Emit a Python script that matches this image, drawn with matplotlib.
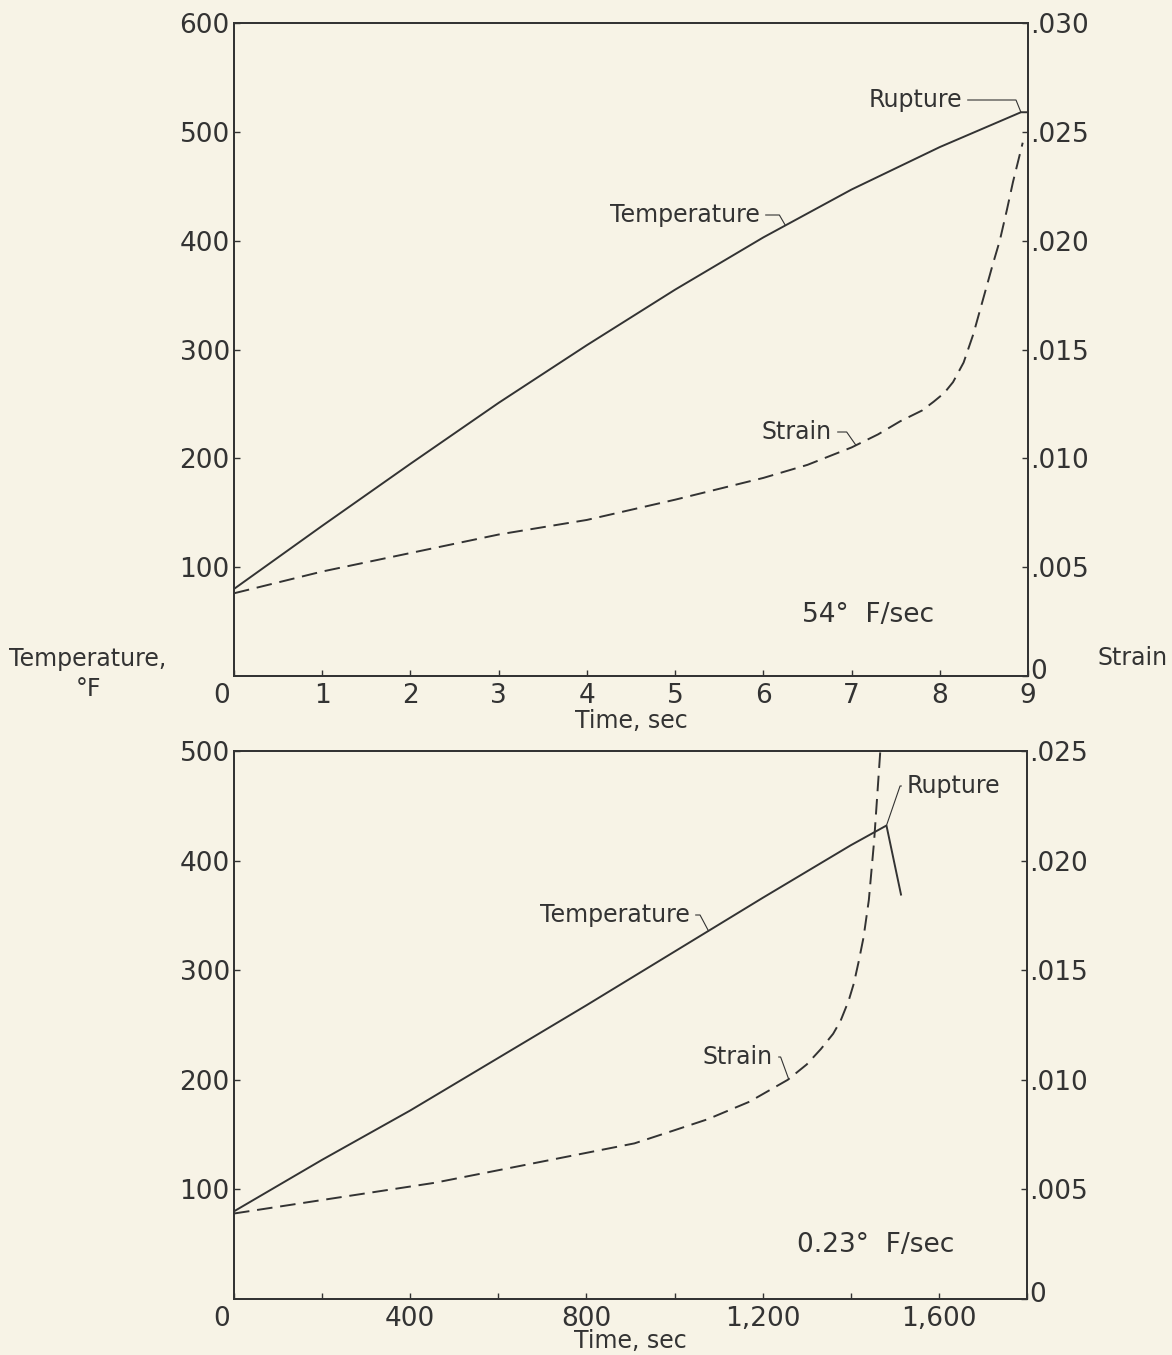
import numpy as np
import matplotlib
matplotlib.use("Agg")
import matplotlib.pyplot as plt
from matplotlib import rc
from matplotlib.transforms import ScaledTranslation

rc('font', **{'family': 'sans-serif', 'sans-serif': ['DejaVu Sans'], 'size': 19})

ink = '#333333'
paper = '#f7f3e6'

# --- 54 F/sec run (top panel) ---
t_fast = [0, 1, 2, 3, 4, 5, 6, 7, 8, 8.92, 9.0]
temp_fast = [80, 138, 195, 251, 304, 355, 403, 447, 486, 518, 518]
ts_fast = [0, 1, 2, 3, 4, 5, 6, 6.5, 7.0, 7.3, 7.55, 7.8, 7.93, 8.05, 8.15, 8.27,
           8.38, 8.49, 8.6, 8.68, 8.76, 8.83, 8.94]
strain_fast = [0.0038, 0.0048, 0.00565, 0.0065, 0.00717, 0.0081, 0.0091, 0.0097,
               0.0105, 0.0111, 0.0117, 0.0122, 0.0126, 0.0130, 0.0135, 0.0144,
               0.0157, 0.0173, 0.0189, 0.0200, 0.0214, 0.0227, 0.0245]

# --- 0.23 F/sec run (bottom panel) ---
t_slow = [0, 200, 400, 600, 800, 1000, 1200, 1400, 1481, 1514]
temp_slow = [80, 127, 172, 220, 268, 317, 366, 414, 432, 369]
ts_slow = [0, 455, 909, 1000, 1075, 1170, 1257, 1300, 1332, 1360, 1377, 1395, 1407,
           1418, 1429, 1441, 1453, 1467, 1472]
strain_slow = [0.0039, 0.0053, 0.0071, 0.0077, 0.0082, 0.0090, 0.0100, 0.0107,
               0.0114, 0.0121, 0.0127, 0.0136, 0.0144, 0.0154, 0.0165, 0.0182,
               0.0209, 0.0250, 0.0265]

W, H = 1172, 1355
fig = plt.figure(figsize=(W / 100, H / 100), dpi=100, facecolor=paper)
dash = (0, (8, 4))


def frac(x0, y0, x1, y1):
    # image pixel box -> figure fraction rect
    return [x0 / W, 1 - y1 / H, (x1 - x0) / W, (y1 - y0) / H]


def leader(ax, label, xy, txt, angB, ha='right'):
    ax.annotate(label, xy=xy, xycoords='data',
                xytext=(txt[0], H - txt[1]), textcoords='figure pixels',
                ha=ha, va='center', fontsize=17, color=ink,
                arrowprops=dict(arrowstyle='-', color=ink, lw=0.8,
                                connectionstyle=f'angle,angleA=0,angleB={angB},rad=0',
                                shrinkA=2, shrinkB=0))


def style(ax, ax2):
    for a in (ax, ax2):
        a.set_facecolor('none')
        for s in a.spines.values():
            s.set_color(ink)
            s.set_linewidth(1.3)
    ax.tick_params(axis='both', direction='in', length=4, width=1, colors=ink)
    ax.tick_params(axis='y', pad=3, labelsize=19)
    ax.tick_params(axis='x', pad=5, labelsize=19)
    ax2.tick_params(axis='y', direction='in', length=4, width=1, colors=ink, pad=1.5, labelsize=19)
    ax.annotate('0', xy=(0, 0), xycoords='axes fraction', xytext=(-9, -5),
                textcoords='offset points', ha='center', va='top', fontsize=19, color=ink)
    # lift the right-hand "0" a little so it clears the last x label
    fig.canvas.draw()
    lab = ax2.get_yticklabels()[0]
    lab.set_transform(lab.get_transform() + ScaledTranslation(0, 5 / 72, fig.dpi_scale_trans))


# top panel
ax = fig.add_axes(frac(234, 23, 1028, 676))
ax.set_facecolor(paper)
ax2 = ax.twinx()
ax.plot(t_fast, temp_fast, color=ink, lw=1.4)
ax2.plot(ts_fast, strain_fast, color=ink, lw=1.4, ls=dash)
ax.set_xlim(0, 9)
ax.set_ylim(0, 600)
ax2.set_ylim(0, 0.030)
ax.set_xticks(range(10))
ax.set_xticklabels([''] + [str(i) for i in range(1, 10)])
ax.set_yticks(range(100, 700, 100))
ax2.set_yticks(np.arange(0, 0.0301, 0.005))
ax2.set_yticklabels(['0', '.005', '.010', '.015', '.020', '.025', '.030'])
style(ax, ax2)
ax.set_xlabel('Time, sec', fontsize=17, color=ink, labelpad=0)
leader(ax, 'Temperature', (6.25, np.interp(6.25, t_fast, temp_fast)), (760, 215), 120)
leader(ax2, 'Strain', (7.05, np.interp(7.05, ts_fast, strain_fast)), (832, 432), 125)
leader(ax, 'Rupture', (8.92, 518), (962, 100), 112)
ax.text(802, H - 615, '54°  F/sec', transform=None, fontsize=19, color=ink, va='center')

# bottom panel
bx = fig.add_axes(frac(234, 751, 1027, 1299))
bx.set_facecolor(paper)
bx2 = bx.twinx()
bx.plot(t_slow, temp_slow, color=ink, lw=1.4)
bx2.plot(ts_slow, strain_slow, color=ink, lw=1.4, ls=dash)
bx.set_xlim(0, 1800)
bx.set_ylim(0, 500)
bx2.set_ylim(0, 0.025)
bx.set_xticks(range(0, 1801, 200))
bx.set_xticklabels(['', '', '400', '', '800', '', '1,200', '', '1,600', ''])
bx.set_yticks(range(100, 600, 100))
bx2.set_yticks(np.arange(0, 0.0251, 0.005))
bx2.set_yticklabels(['0', '.005', '.010', '.015', '.020', '.025'])
style(bx, bx2)
bx.set_xlabel('Time, sec', fontsize=17, color=ink, labelpad=-2)
leader(bx, 'Temperature', (1077, np.interp(1077, t_slow, temp_slow)), (690, 915), 118)
leader(bx2, 'Strain', (1259, np.interp(1259, ts_slow, strain_slow)), (773, 1057), 110)
leader(bx, 'Rupture', (1481, 432), (907, 786), 71, ha='left')
bx.text(797, H - 1245, '0.23°  F/sec', transform=None, fontsize=19, color=ink, va='center')

# shared axis titles between panels
fig.text(88 / W, 1 - 674 / H, 'Temperature,\n°F', ha='center', va='center',
         fontsize=17, color=ink, linespacing=1.3)
fig.text(1133 / W, 1 - 658 / H, 'Strain', ha='center', va='center', fontsize=17, color=ink)

fig.savefig('out.png', dpi=100, facecolor=paper)
